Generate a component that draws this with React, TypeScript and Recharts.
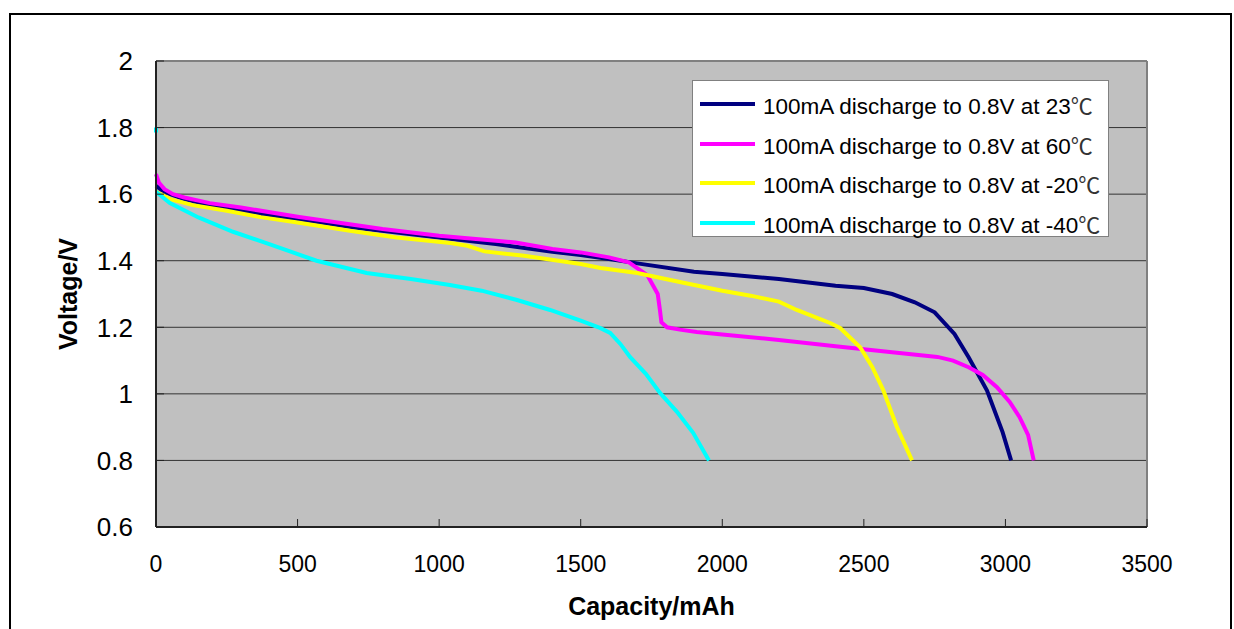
import React from "react";
import {
  LineChart,
  Line,
  XAxis,
  YAxis,
  CartesianGrid,
  Legend,
  ReferenceLine,
  Label,
} from "recharts";

// capacity (mAh) / voltage (V)
const cap23 = [0, 20, 50, 100, 200, 300, 500, 700, 1000, 1200, 1400, 1500, 1600, 1700, 1900, 2000, 2200, 2400, 2500, 2600, 2680, 2750, 2820, 2870, 2935, 2990, 3020];
const volt23 = [1.625, 1.612, 1.6, 1.585, 1.565, 1.55, 1.525, 1.5, 1.47, 1.45, 1.427, 1.417, 1.405, 1.392, 1.367, 1.36, 1.345, 1.325, 1.318, 1.3, 1.275, 1.245, 1.18, 1.11, 1.01, 0.885, 0.8];

const cap60 = [0, 10, 30, 60, 100, 190, 300, 500, 800, 1000, 1270, 1400, 1500, 1600, 1670, 1735, 1772, 1780, 1785, 1805, 1850, 1910, 2000, 2200, 2400, 2600, 2760, 2815, 2870, 2920, 2970, 3015, 3050, 3080, 3100];
const volt60 = [1.66, 1.635, 1.615, 1.6, 1.59, 1.573, 1.56, 1.532, 1.495, 1.475, 1.455, 1.435, 1.425, 1.41, 1.395, 1.357, 1.3, 1.25, 1.215, 1.2, 1.193, 1.186, 1.178, 1.162, 1.143, 1.125, 1.111, 1.1, 1.08, 1.057, 1.02, 0.976, 0.93, 0.877, 0.8];

const capM20 = [0, 50, 130, 250, 370, 500, 685, 850, 1040, 1100, 1160, 1300, 1500, 1570, 1700, 1850, 2000, 2100, 2200, 2263, 2381, 2416, 2487, 2530, 2568, 2617, 2670];
const voltM20 = [1.607, 1.585, 1.567, 1.55, 1.531, 1.515, 1.49, 1.47, 1.453, 1.445, 1.428, 1.415, 1.39, 1.378, 1.363, 1.336, 1.31, 1.295, 1.277, 1.252, 1.213, 1.198, 1.14, 1.08, 1.012, 0.9, 0.8];

const capM40 = [0, 0, 0, 0, 49, 150, 272, 400, 567, 744, 900, 1038, 1150, 1275, 1392, 1500, 1568, 1604, 1640, 1674, 1730, 1780, 1840, 1897, 1953];
const voltM40 = [1.8, 1.785, null, 1.607, 1.573, 1.53, 1.487, 1.45, 1.4, 1.363, 1.345, 1.327, 1.31, 1.282, 1.252, 1.22, 1.198, 1.183, 1.15, 1.111, 1.06, 1.003, 0.946, 0.883, 0.8];

const xTicks = [0, 500, 1000, 1500, 2000, 2500, 3000, 3500];
const yTicks = [0.6, 0.8, 1, 1.2, 1.4, 1.6, 1.8, 2];

const toRows = (caps: number[], volts: (number | null)[]) =>
  caps.map((c, i) => ({ cap: c, v: volts[i] }));

const series = [
  { name: "100mA discharge to 0.8V at 23", color: "#000080", data: toRows(cap23, volt23) },
  { name: "100mA discharge to 0.8V at 60", color: "#FF00FF", data: toRows(cap60, volt60) },
  { name: "100mA discharge to 0.8V at -20", color: "#FFFF00", data: toRows(capM20, voltM20) },
  { name: "100mA discharge to 0.8V at -40", color: "#00FFFF", data: toRows(capM40, voltM40) },
];

const FONT = "'Liberation Sans', Arial, sans-serif";

function LegendBox() {
  return (
    <div
      style={{
        width: 417,
        height: 157,
        boxSizing: "border-box",
        background: "#fff",
        border: "1px solid #808080",
        paddingTop: 3,
        fontFamily: FONT,
      }}
    >
      {series.map((s) => (
        <div key={s.name} style={{ height: 39.8, display: "flex", alignItems: "center" }}>
          <svg width={70} height={10} style={{ flex: "none" }}>
            <line x1={7} x2={62} y1={5} y2={5} stroke={s.color} strokeWidth={4} />
          </svg>
          <span style={{ fontSize: 22.5, color: "#000", whiteSpace: "nowrap" }}>
            {s.name}
            <span style={{ fontFamily: "'Noto Sans CJK SC'", fontSize: 22, color: "#333" }}>℃</span>
          </span>
        </div>
      ))}
    </div>
  );
}

export default function App() {
  return (
    <div style={{ position: "relative", width: 1234, height: 629, background: "#fff", overflow: "hidden" }}>
      <style>{`body{margin:0;overflow:hidden}`}</style>
      <div
        style={{
          position: "absolute",
          left: 9,
          top: 13,
          width: 1223,
          height: 700,
          border: "2px solid #000",
          boxSizing: "border-box",
        }}
      />
      <LineChart
        width={1234}
        height={629}
        margin={{ top: 61, right: 87, bottom: 12, left: 76 }}
        style={{ position: "absolute", left: 0, top: 0, fontFamily: FONT }}
      >
        <CartesianGrid vertical={false} stroke="#333" fill="#C0C0C0" fillOpacity={1} />
        <XAxis
          type="number"
          dataKey="cap"
          domain={[0, 3500]}
          ticks={xTicks}
          height={90}
          tickSize={-8}
          tickMargin={37}
          tick={{ fontSize: 23, fill: "#000", fontFamily: FONT }}
          axisLine={{ stroke: "#222", strokeWidth: 2 }}
          tickLine={{ stroke: "#222" }}
        >
          <Label
            content={(lp: any) => {
              const vb = lp.viewBox;
              return (
                <text
                  x={vb.x + vb.width / 2}
                  y={vb.y + 88}
                  textAnchor="middle"
                  fontSize={25}
                  fontWeight="bold"
                  fontFamily={FONT}
                  fill="#000"
                >
                  Capacity/mAh
                </text>
              );
            }}
          />
        </XAxis>
        <YAxis
          type="number"
          domain={[0.6, 2]}
          ticks={yTicks}
          width={80}
          tickSize={-8}
          tickMargin={31}
          tick={{ fontSize: 26, fill: "#000", fontFamily: FONT }}
          axisLine={{ stroke: "#222", strokeWidth: 2 }}
          tickLine={{ stroke: "#222" }}
        >
          <Label
            content={(lp: any) => {
              const vb = lp.viewBox;
              const cx = vb.x - 8;
              const cy = vb.y + vb.height / 2;
              return (
                <text
                  x={cx}
                  y={cy}
                  transform={`rotate(-90 ${cx} ${cy})`}
                  textAnchor="middle"
                  dominantBaseline="central"
                  fontSize={25}
                  fontWeight="bold"
                  fontFamily={FONT}
                  fill="#000"
                >
                  Voltage/V
                </text>
              );
            }}
          />
        </YAxis>
        <ReferenceLine y={2} stroke="#808080" strokeWidth={2} />
        <ReferenceLine x={3500} stroke="#808080" strokeWidth={2} />
        {series.map((s) => (
          <Line
            key={s.name}
            name={s.name}
            data={s.data}
            dataKey="v"
            type="linear"
            stroke={s.color}
            strokeWidth={4}
            dot={false}
            activeDot={false}
            isAnimationActive={false}
          />
        ))}
        <Legend
          layout="vertical"
          align="center"
          verticalAlign="middle"
          content={LegendBox}
          wrapperStyle={{ left: 692, top: 80, width: 417, height: 157 }}
        />
      </LineChart>
    </div>
  );
}
